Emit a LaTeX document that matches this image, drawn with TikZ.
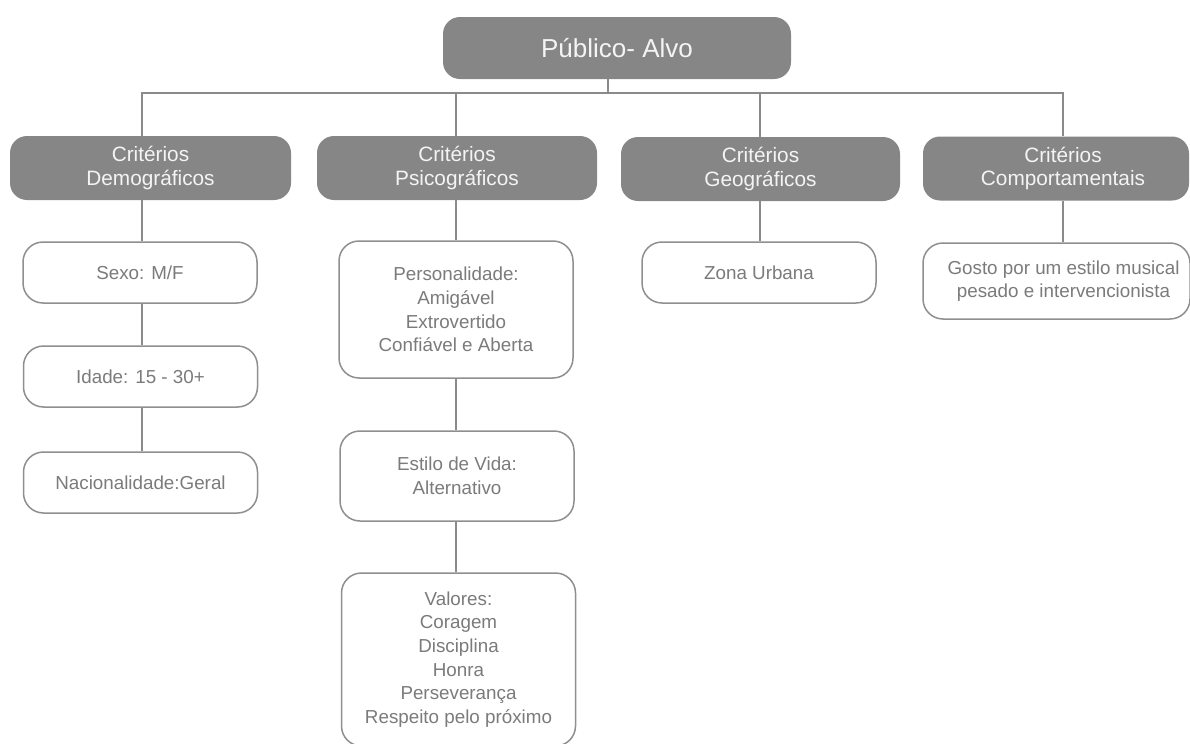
\documentclass[tikz,border=0pt]{standalone}
\usepackage{fontspec}
\setmainfont{Liberation Sans}
\definecolor{boxgray}{HTML}{868686}
\definecolor{boxtext}{HTML}{F4F4F4}
\definecolor{linegray}{HTML}{8A8A8A}
\definecolor{edgegray}{HTML}{8F8F8F}
\definecolor{itemtext}{HTML}{7B7B7B}
\newcommand{\nudge}{\hspace*{-7pt}}
\begin{document}
\begin{tikzpicture}[x=0.5pt,y=-0.5pt,
    link/.style={draw=linegray, line width=1pt},
    topbox/.style={fill=boxgray, text=boxtext, rounded corners=8.5pt, inner sep=0pt,
        font=\fontsize{13}{15}\selectfont},
    catbox/.style={fill=boxgray, text=boxtext, rounded corners=8.5pt, inner sep=0pt,
        align=center, minimum height=32pt, font=\fontsize{10.4}{11.8}\selectfont},
    itembox/.style={draw=edgegray, line width=0.75pt, fill=white, text=itemtext,
        rounded corners=10pt, inner sep=0pt, align=center, minimum width=117pt,
        font=\fontsize{9.4}{11.8}\selectfont}]
    \useasboundingbox (0,0) rectangle (1190,744);

    \node[topbox, minimum width=174pt, minimum height=31pt] (publico) at (617,48) {Público- Alvo};

    \node[catbox, minimum width=140.5pt] (demo) at (150.5,168) {Critérios\\Demográficos};
    \node[catbox, minimum width=140pt] (psico) at (457,168) {Critérios\\Psicográficos};
    \node[catbox, minimum width=139.5pt] (geo) at (760.5,169) {Critérios\\Geográficos};
    \node[catbox, minimum width=133pt] (comp) at (1056,168.5) {Critérios\nudge\\Comportamentais\nudge};

    \node[itembox, minimum height=30.5pt] (sexo) at (140,272.5) {Sexo: M/F};
    \node[itembox, minimum height=30.5pt] (idade) at (140.5,376.5) {Idade: 15 - 30+};
    \node[itembox, minimum height=30.5pt] (nacio) at (140.5,482.5) {Nacionalidade:Geral};
    \node[itembox, minimum height=68.5pt] (perso) at (456,309.5) {Personalidade:\\Amigável\\Extrovertido\\Confiável e Aberta};
    \node[itembox, minimum height=45pt] (estilo) at (457,476) {Estilo de Vida:\\Alternativo};
    \node[itembox, minimum height=86.5pt] (valores) at (458.5,659.5) {Valores:\\Coragem\\Disciplina\\Honra\\Perseverança\\Respeito pelo próximo};
    \node[itembox, minimum height=30.5pt] (zona) at (759,272.5) {Zona Urbana};
    \node[itembox, minimum width=133.5pt, minimum height=38pt] (gosto) at (1056.5,281) {Gosto por um estilo musical\nudge\\pesado e intervencionista\nudge};

    \coordinate (bus) at (608,93);
    \coordinate (col1) at (142,93);
    \coordinate (col2) at (456,93);
    \coordinate (col3) at (760,93);
    \coordinate (col4) at (1063,93);

    \draw[link] (publico.south -| bus) -- (bus);
    \draw[link] (col1 |- demo.north) -- (col1) -- (col4) -- (col4 |- comp.north);
    \draw[link] (col2) -- (col2 |- psico.north);
    \draw[link] (col3) -- (col3 |- geo.north);

    \draw[link] (col1 |- demo.south) -- (col1 |- sexo.north);
    \draw[link] (col1 |- sexo.south) -- (col1 |- idade.north);
    \draw[link] (col1 |- idade.south) -- (col1 |- nacio.north);
    \draw[link] (col2 |- psico.south) -- (col2 |- perso.north);
    \draw[link] (col2 |- perso.south) -- (col2 |- estilo.north);
    \draw[link] (col2 |- estilo.south) -- (col2 |- valores.north);
    \draw[link] (col3 |- geo.south) -- (col3 |- zona.north);
    \draw[link] (col4 |- comp.south) -- (col4 |- gosto.north);
\end{tikzpicture}
\end{document}
